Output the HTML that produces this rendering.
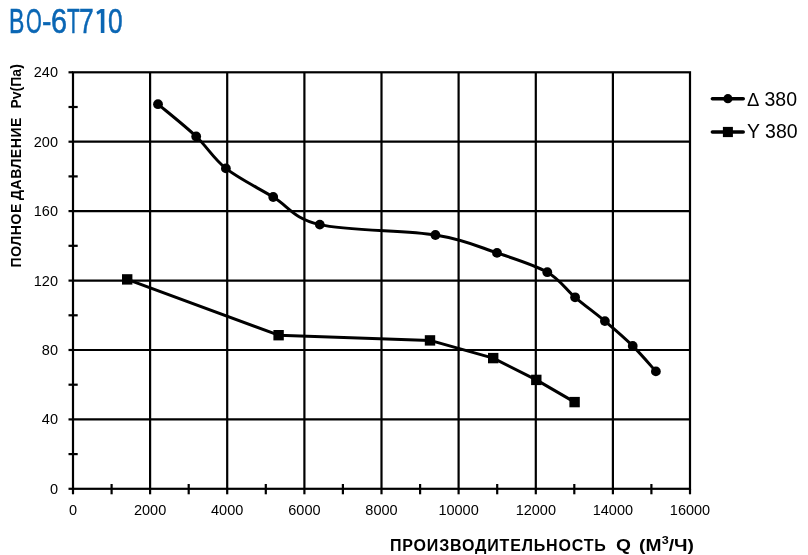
<!DOCTYPE html>
<html><head><meta charset="utf-8"><style>
html,body{margin:0;padding:0;background:#fff;width:808px;height:555px;overflow:hidden;font-family:"Liberation Sans",sans-serif;}
#wrap{position:absolute;left:0;top:0;width:808px;height:555px;will-change:transform;}
.title span{position:absolute;top:1px;font-size:35px;line-height:40px;-webkit-text-stroke-width:0.55px;color:#0a66b4;-webkit-text-stroke-color:#0a66b4;transform-origin:0 0;white-space:nowrap}
svg{position:absolute;left:0;top:0}
.yl{position:absolute;left:0;width:58px;text-align:right;font-size:14.5px;line-height:18px;color:#000}
.xl{position:absolute;top:500.5px;width:60px;text-align:center;font-size:14.5px;line-height:18px;color:#000}
.yt{position:absolute;left:0;top:0;font-size:14px;font-weight:bold;white-space:nowrap;transform-origin:0 0;line-height:16px}
.xt{position:absolute;top:535.5px;font-size:16px;font-weight:bold;white-space:nowrap;line-height:20px;transform-origin:0 0}
.leg{position:absolute;font-size:19.5px;line-height:22px;white-space:nowrap}
</style></head><body><div id="wrap">
<div class="title"><span style="left:9.43px;transform:scaleX(0.658)">В</span><span style="left:25.72px;transform:scaleX(0.580)">О</span><span style="left:41.99px;transform:scaleX(0.810)">-</span><span style="left:51.25px;transform:scaleX(0.825)">6</span><span style="left:66.80px;transform:scaleX(0.595)">Т</span><span style="left:79.39px;transform:scaleX(0.756)">7</span><span style="left:108.35px;transform:scaleX(0.753)">0</span></div>
<svg width="808" height="555" viewBox="0 0 808 555">
<g stroke="#000" stroke-width="2.2" fill="none">
<line x1="150.1" y1="72.3" x2="150.1" y2="488.8"/>
<line x1="227.2" y1="72.3" x2="227.2" y2="488.8"/>
<line x1="304.4" y1="72.3" x2="304.4" y2="488.8"/>
<line x1="381.5" y1="72.3" x2="381.5" y2="488.8"/>
<line x1="458.6" y1="72.3" x2="458.6" y2="488.8"/>
<line x1="535.8" y1="72.3" x2="535.8" y2="488.8"/>
<line x1="612.9" y1="72.3" x2="612.9" y2="488.8"/>
<line x1="73.0" y1="419.4" x2="690.0" y2="419.4"/>
<line x1="73.0" y1="350.0" x2="690.0" y2="350.0"/>
<line x1="73.0" y1="280.6" x2="690.0" y2="280.6"/>
<line x1="73.0" y1="211.1" x2="690.0" y2="211.1"/>
<line x1="73.0" y1="141.7" x2="690.0" y2="141.7"/>
<rect x="73.0" y="72.3" width="617.0" height="416.5" fill="none"/>
<line x1="68.5" y1="488.8" x2="73.0" y2="488.8"/>
<line x1="68.5" y1="454.1" x2="77.7" y2="454.1"/>
<line x1="68.5" y1="419.4" x2="73.0" y2="419.4"/>
<line x1="68.5" y1="384.7" x2="77.7" y2="384.7"/>
<line x1="68.5" y1="350.0" x2="73.0" y2="350.0"/>
<line x1="68.5" y1="315.3" x2="77.7" y2="315.3"/>
<line x1="68.5" y1="280.6" x2="73.0" y2="280.6"/>
<line x1="68.5" y1="245.8" x2="77.7" y2="245.8"/>
<line x1="68.5" y1="211.1" x2="73.0" y2="211.1"/>
<line x1="68.5" y1="176.4" x2="77.7" y2="176.4"/>
<line x1="68.5" y1="141.7" x2="73.0" y2="141.7"/>
<line x1="68.5" y1="107.0" x2="77.7" y2="107.0"/>
<line x1="68.5" y1="72.3" x2="73.0" y2="72.3"/>
<line x1="73.0" y1="488.8" x2="73.0" y2="494.3"/>
<line x1="111.6" y1="484" x2="111.6" y2="494.3"/>
<line x1="150.1" y1="488.8" x2="150.1" y2="494.3"/>
<line x1="188.7" y1="484" x2="188.7" y2="494.3"/>
<line x1="227.2" y1="488.8" x2="227.2" y2="494.3"/>
<line x1="265.8" y1="484" x2="265.8" y2="494.3"/>
<line x1="304.4" y1="488.8" x2="304.4" y2="494.3"/>
<line x1="342.9" y1="484" x2="342.9" y2="494.3"/>
<line x1="381.5" y1="488.8" x2="381.5" y2="494.3"/>
<line x1="420.1" y1="484" x2="420.1" y2="494.3"/>
<line x1="458.6" y1="488.8" x2="458.6" y2="494.3"/>
<line x1="497.2" y1="484" x2="497.2" y2="494.3"/>
<line x1="535.8" y1="488.8" x2="535.8" y2="494.3"/>
<line x1="574.3" y1="484" x2="574.3" y2="494.3"/>
<line x1="612.9" y1="488.8" x2="612.9" y2="494.3"/>
<line x1="651.4" y1="484" x2="651.4" y2="494.3"/>
<line x1="690.0" y1="488.8" x2="690.0" y2="494.3"/>
</g>
<path d="M158.0,104.2 C164.4,109.6 184.9,125.8 196.2,136.5 C207.5,147.2 213.1,158.3 225.9,168.4 C238.7,178.5 257.6,187.6 273.2,197.0 C288.8,206.4 292.8,218.3 319.8,224.6 C346.8,230.9 405.9,230.3 435.4,235.0 C464.9,239.7 478.4,246.7 497.0,252.9 C515.6,259.1 534.3,264.8 547.3,272.2 C560.3,279.6 565.5,289.1 575.1,297.3 C584.7,305.5 595.3,313.0 604.9,321.1 C614.5,329.2 624.2,337.5 632.7,345.9 C641.2,354.3 652.0,367.1 655.9,371.4" stroke="#000" stroke-width="3" fill="none" stroke-linejoin="round"/>
<path d="M127.2,279.4 L278.6,335.2 L430.0,340.4 L493.2,358.1 L536.3,379.9 L574.6,402.1" stroke="#000" stroke-width="3" fill="none" stroke-linejoin="round"/>
<g fill="#000">
<circle cx="158.0" cy="104.2" r="4.9"/>
<circle cx="196.2" cy="136.5" r="4.9"/>
<circle cx="225.9" cy="168.4" r="4.9"/>
<circle cx="273.2" cy="197.0" r="4.9"/>
<circle cx="319.8" cy="224.6" r="4.9"/>
<circle cx="435.4" cy="235.0" r="4.9"/>
<circle cx="497.0" cy="252.9" r="4.9"/>
<circle cx="547.3" cy="272.2" r="4.9"/>
<circle cx="575.1" cy="297.3" r="4.9"/>
<circle cx="604.9" cy="321.1" r="4.9"/>
<circle cx="632.7" cy="345.9" r="4.9"/>
<circle cx="655.9" cy="371.4" r="4.9"/>
<rect x="122.0" y="274.2" width="10.4" height="10.4"/>
<rect x="273.4" y="330.0" width="10.4" height="10.4"/>
<rect x="424.8" y="335.2" width="10.4" height="10.4"/>
<rect x="488.0" y="352.9" width="10.4" height="10.4"/>
<rect x="531.1" y="374.7" width="10.4" height="10.4"/>
<rect x="569.4" y="396.9" width="10.4" height="10.4"/>
</g>
<g stroke="#000" stroke-width="3.6" stroke-linecap="round">
<line x1="712.4" y1="98.7" x2="743.2" y2="98.7"/>
<line x1="712.4" y1="132" x2="743.2" y2="132"/>
</g>
<circle cx="727.9" cy="98.7" r="4.6"/>
<polygon fill="#0a66b4" points="100.8,8.9 104.4,8.9 104.4,33 100.8,33 100.8,12.8 97.6,14.7 96.3,11.9"/>
<rect x="722.9" y="126.9" width="10" height="10.2"/>
</svg>
<div class="yl" style="top:479.8px">0</div>
<div class="yl" style="top:410.4px">40</div>
<div class="yl" style="top:341.0px">80</div>
<div class="yl" style="top:271.6px">120</div>
<div class="yl" style="top:202.1px">160</div>
<div class="yl" style="top:132.7px">200</div>
<div class="yl" style="top:63.3px">240</div>
<div class="xl" style="left:43.0px">0</div>
<div class="xl" style="left:120.1px">2000</div>
<div class="xl" style="left:197.2px">4000</div>
<div class="xl" style="left:274.4px">6000</div>
<div class="xl" style="left:351.5px">8000</div>
<div class="xl" style="left:428.6px">10000</div>
<div class="xl" style="left:505.8px">12000</div>
<div class="xl" style="left:582.9px">14000</div>
<div class="xl" style="left:660.0px">16000</div>
<div class="yt" style="transform:translate(8px,267.5px) rotate(-90deg);letter-spacing:0.6px">ПОЛНОЕ</div>
<div class="yt" style="transform:translate(8px,200px) rotate(-90deg);letter-spacing:0.55px">ДАВЛЕНИЕ</div>
<div class="yt" style="transform:translate(8px,108.5px) rotate(-90deg)">Pv(Па)</div>
<div class="xt" style="left:390px;letter-spacing:0.82px">ПРОИЗВОДИТЕЛЬНОСТЬ</div>
<div class="xt" style="left:616px;transform:scaleX(1.2)">Q</div>
<div class="xt" style="left:639px;transform:scaleX(1.2)">(М<span style="font-size:10.5px;position:relative;top:-6.5px;margin-left:0.3px">3</span>/Ч)</div>
<div class="leg" style="left:747px;top:88px"><span style="display:inline-block;transform:scale(0.95,0.9);transform-origin:0 82%;margin-right:-1px">Δ</span> 380</div>
<div class="leg" style="left:747px;top:120px">Y 380</div>
</div></body></html>
